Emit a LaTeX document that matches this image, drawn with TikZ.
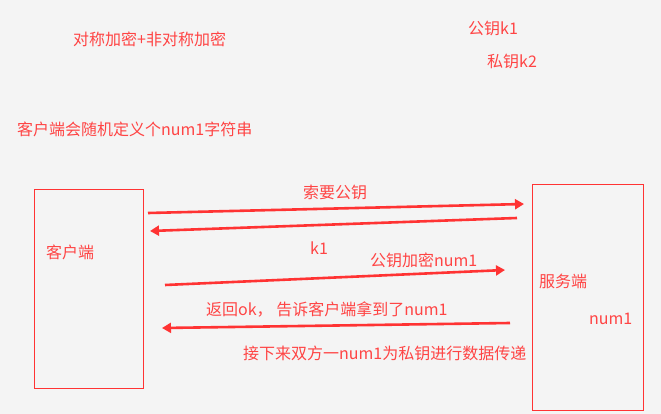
\documentclass[tikz,border=0pt]{standalone}
\usepackage{fontspec}
\setmainfont{Noto Sans CJK SC}
\usetikzlibrary{arrows.meta}
\definecolor{redtxt}{HTML}{FF4444}
\definecolor{redline}{HTML}{FF3333}
\definecolor{paper}{HTML}{F4F4F4}

\begin{document}
\begin{tikzpicture}[x=1pt,y=-1pt,
        lbl/.style={anchor=west,inner sep=0pt,text=redtxt,font=\fontsize{16pt}{18pt}\selectfont},
        host/.style={draw=redline,line width=1pt,inner sep=0pt},
        msg/.style={draw=redline,line width=2.6pt,-{Triangle[length=9pt,width=10pt]}}]
            \fill [paper] (0,0) rectangle (661,414);

            % titles
            \node [lbl] (title) at (73,39) {对称加密+非对称加密};
            \node [lbl] (pubkey) at (468,28) {公钥k1};
            \node [lbl] (privkey) at (487,61) {私钥k2};
            \node [lbl] (intro) at (17,129) {客户端会随机定义个num1字符串};

            % the two ends
            \node [host,minimum width=109pt,minimum height=198pt] (client) at (88.5,289) {};
            \node [host,minimum width=111pt,minimum height=225pt] (server) at (587.5,297.5) {};
            \node [lbl] (clientname) at (46,252) {客户端};
            \node [lbl] (servername) at (539,281) {服务端};
            \node [lbl] (servernum) at (589,319) {num1};

            % messages
            \coordinate (ask0) at (148,213);
            \coordinate (ask1) at (524,204);
            \coordinate (key0) at (517,218);
            \coordinate (key1) at (150,231);
            \coordinate (enc0) at (165,285);
            \coordinate (enc1) at (505,270);
            \coordinate (ok0) at (510,323);
            \coordinate (ok1) at (162,328);

            \draw [msg] (ask0) -- (ask1);
            \draw [msg] (key0) -- (key1);
            \draw [msg] (enc0) -- (enc1);
            \draw [msg] (ok0) -- (ok1);

            \node [lbl] (asklbl) at (303,192) {索要公钥};
            \node [lbl] (keylbl) at (310,248) {k1};
            \node [lbl] (enclbl) at (370,260) {公钥加密num1};
            \node [lbl] (oklbl) at (206,309) {返回ok， 告诉客户端拿到了num1};
            \node [lbl] (nextlbl) at (243,353) {接下来双方一num1为私钥进行数据传递};
        \end{tikzpicture}
\end{document}
